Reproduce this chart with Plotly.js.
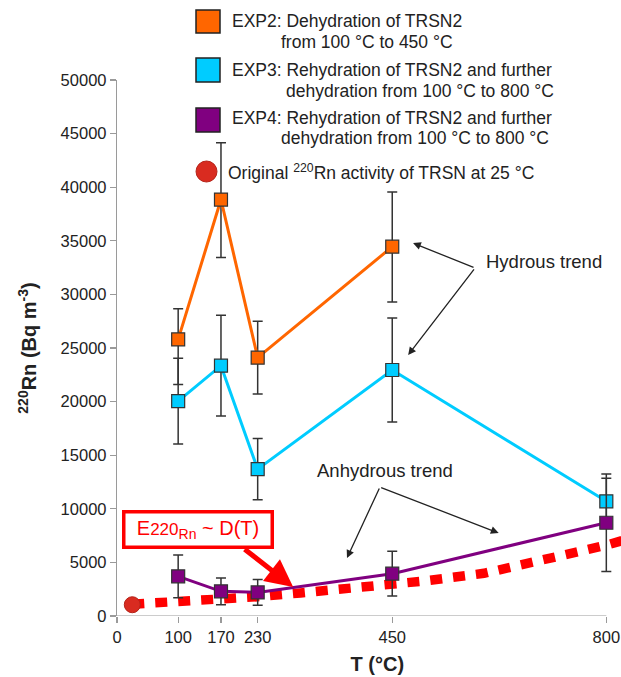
<!DOCTYPE html>
<html>
<head>
<meta charset="utf-8">
<script src="https://cdn.plot.ly/plotly-3.0.1.min.js"></script>
<style>html,body{margin:0;padding:0;background:#fff;}#chart{width:621px;height:677px;}</style>
</head>
<body>
<div id="chart"></div>
<script>
// ---- data ----
var tickTemps = [0, 100, 170, 230, 450, 800];
var tickLabels = ['0', '100', '170', '230', '450', '800'];
var yTickVals = [0, 5000, 10000, 15000, 20000, 25000, 30000, 35000, 40000, 45000, 50000];
var yTickLabels = ['0', '5000', '10000', '15000', '20000', '25000', '30000', '35000', '40000', '45000', '50000'];

var exp2T = [100, 170, 230, 450];
var exp2Rn = [25800, 38850, 24100, 34450];
var exp2ErrPlus = [2850, 5300, 3400, 5100];
var exp2ErrMinus = [4200, 5400, 3400, 5150];

var exp3T = [100, 170, 230, 450, 800];
var exp3Rn = [20050, 23350, 13700, 22950, 10700];
var exp3Err = [4000, 4700, 2850, 4850, 2150];

var exp4T = [100, 170, 230, 450, 800];
var exp4Rn = [3700, 2300, 2200, 3950, 8700];
var exp4Err = [2000, 1250, 1200, 2080, 4550];

var origT = [25];
var origRn = [1050];

var diffT = [25, 100, 170, 230, 300, 400, 450, 500, 600, 700, 800, 830];
var diffRn = [1100, 1300, 1560, 1800, 2150, 2620, 2900, 3250, 3980, 5200, 6600, 7100];

// ---- helpers (pixel -> paper) ----
var L = 117, T0 = 80, PW = 504, PH = 536;
function px(x) { return (x - L) / PW; }
function py(y) { return (T0 + PH - y) / PH; }

var FONT = 'Liberation Sans, Arial, sans-serif';
var ORANGE = '#FF6600', CYAN = '#00CCFF', PURPLE = '#800080';
var ERR = '#333333';

var traces = [
  { x: diffT, y: diffRn, mode: 'lines', line: { color: '#FF0000', width: 9.5, dash: '12px,11px' }, hoverinfo: 'skip' },
  { x: exp2T, y: exp2Rn, mode: 'lines+markers',
    line: { color: ORANGE, width: 3 },
    marker: { symbol: 'square', size: 13, color: ORANGE, line: { color: '#333', width: 1.2 } },
    error_y: { type: 'data', symmetric: false, array: exp2ErrPlus, arrayminus: exp2ErrMinus, color: ERR, thickness: 1.5, width: 5 } },
  { x: exp3T, y: exp3Rn, mode: 'lines+markers',
    line: { color: CYAN, width: 3 },
    marker: { symbol: 'square', size: 13, color: CYAN, line: { color: '#333', width: 1.2 } },
    error_y: { type: 'data', array: exp3Err, color: ERR, thickness: 1.5, width: 5 } },
  { x: exp4T, y: exp4Rn, mode: 'lines+markers',
    line: { color: PURPLE, width: 3 },
    marker: { symbol: 'square', size: 13, color: PURPLE, line: { color: '#333', width: 1.2 } },
    error_y: { type: 'data', array: exp4Err, color: ERR, thickness: 1.5, width: 5 } },
  { x: origT, y: origRn, mode: 'markers',
    marker: { symbol: 'circle', size: 16, color: '#D92B20', line: { color: '#B52218', width: 1 } } }
];

var legFont = { family: FONT, size: 17.5, color: '#222' };
function txt(x, y, t, extra) {
  var a = { xref: 'paper', yref: 'paper', x: px(x), y: py(y), text: t, showarrow: false,
            xanchor: 'left', yanchor: 'middle', font: legFont };
  if (extra) for (var k in extra) a[k] = extra[k];
  return a;
}
function arrow(tx, ty, ax, ay, color, w, head, size) {
  return { xref: 'x', yref: 'y', x: tx, y: ty, ax: ax, ay: ay, axref: 'pixel', ayref: 'pixel',
           text: '', showarrow: true, arrowcolor: color, arrowwidth: w, arrowhead: head, arrowsize: size, standoff: 0, startstandoff: 0 };
}

var annotations = [
  txt(230, 21, 'EXP2: Dehydration of TRSN2'),
  txt(279, 42, 'from 100 °C to 450 °C'),
  txt(230, 70, 'EXP3: Rehydration of TRSN2 and further'),
  txt(284, 91, 'dehydration from 100 °C to 800 °C'),
  txt(230, 118, 'EXP4: Rehydration of TRSN2 and further'),
  txt(279, 138, 'dehydration from 100 °C to 800 °C'),
  txt(226, 172, 'Original <sup>220</sup>Rn activity of TRSN at 25 °C'),
  txt(544, 261, 'Hydrous trend', { xanchor: 'center', font: { family: FONT, size: 18.5, color: '#222' } }),
  txt(385, 470, 'Anhydrous trend', { xanchor: 'center', font: { family: FONT, size: 18.5, color: '#222' } }),
  txt(197.5, 529.5, 'E<span style="font-size:17px">220</span><sub>Rn</sub> ~ D(T)', { xanchor: 'center', width: 141, height: 28,
      bordercolor: '#FF0000', borderwidth: 3.5, borderpad: 2, bgcolor: '#ffffff',
      font: { family: FONT, size: 20, color: '#FF0000' } }),
  arrow(484, 34790, 62, 25, '#222', 1.3, 2, 1.2),
  arrow(476, 24350, 67, -87, '#222', 1.3, 2, 1.2),
  arrow(376, 5410, 33, -71, '#222', 1.3, 2, 1.2),
  arrow(624, 7740, -119, -46, '#222', 1.3, 2, 1.2),
  arrow(288, 2705, -50, -39, '#FF0000', 5, 2, 1.1)
];

function sq(x0, y0, x1, y1, c) {
  return { type: 'rect', xref: 'paper', yref: 'paper', x0: px(x0), x1: px(x1), y0: py(y1), y1: py(y0),
           fillcolor: c, line: { color: '#222', width: 1.5 } };
}
var shapes = [
  sq(196, 10, 220, 33, ORANGE),
  sq(196, 58, 220, 82, CYAN),
  sq(196, 108, 220, 132, PURPLE),
  { type: 'circle', xref: 'paper', yref: 'paper', x0: px(196), x1: px(217), y0: py(182), y1: py(161),
    fillcolor: '#D92B20', line: { color: '#B52218', width: 1 } },
  { type: 'line', xref: 'x', yref: 'y', x0: 0, x1: 800, y0: 0, y1: 0, line: { color: '#9a9a9a', width: 1.2 }, layer: 'below' }
];

var layout = {
  width: 621, height: 677,
  margin: { l: 117, r: 0, t: 80, b: 61, pad: 0 },
  paper_bgcolor: '#fff', plot_bgcolor: '#fff',
  showlegend: false,
  font: { family: FONT, color: '#222' },
  xaxis: {
    range: [0, 824], showgrid: false, zeroline: false, showline: false,
    tickmode: 'array', tickvals: tickTemps, ticktext: tickLabels,
    ticks: 'outside', ticklen: 6, tickcolor: '#9a9a9a', tickwidth: 1.2,
    tickfont: { family: FONT, size: 16.5, color: '#222' },
    title: { text: '&nbsp;&nbsp;&nbsp;<b>T (°C)</b>', font: { family: FONT, size: 20, color: '#222' }, standoff: 12 }
  },
  yaxis: {
    range: [0, 50000], showgrid: false, zeroline: false,
    showline: true, linecolor: '#9a9a9a', linewidth: 1.2,
    tickmode: 'array', tickvals: yTickVals, ticktext: yTickLabels,
    ticks: 'outside', ticklen: 6, tickcolor: '#9a9a9a', tickwidth: 1.2,
    tickfont: { family: FONT, size: 16.5, color: '#222' },
    title: { text: '<b><sup>220</sup>Rn (Bq m<sup>-3</sup>)</b>', font: { family: FONT, size: 20, color: '#222' }, standoff: 18 }
  },
  annotations: annotations,
  shapes: shapes
};

Plotly.newPlot('chart', traces, layout, { displayModeBar: false, staticPlot: true });
</script>
</body>
</html>
